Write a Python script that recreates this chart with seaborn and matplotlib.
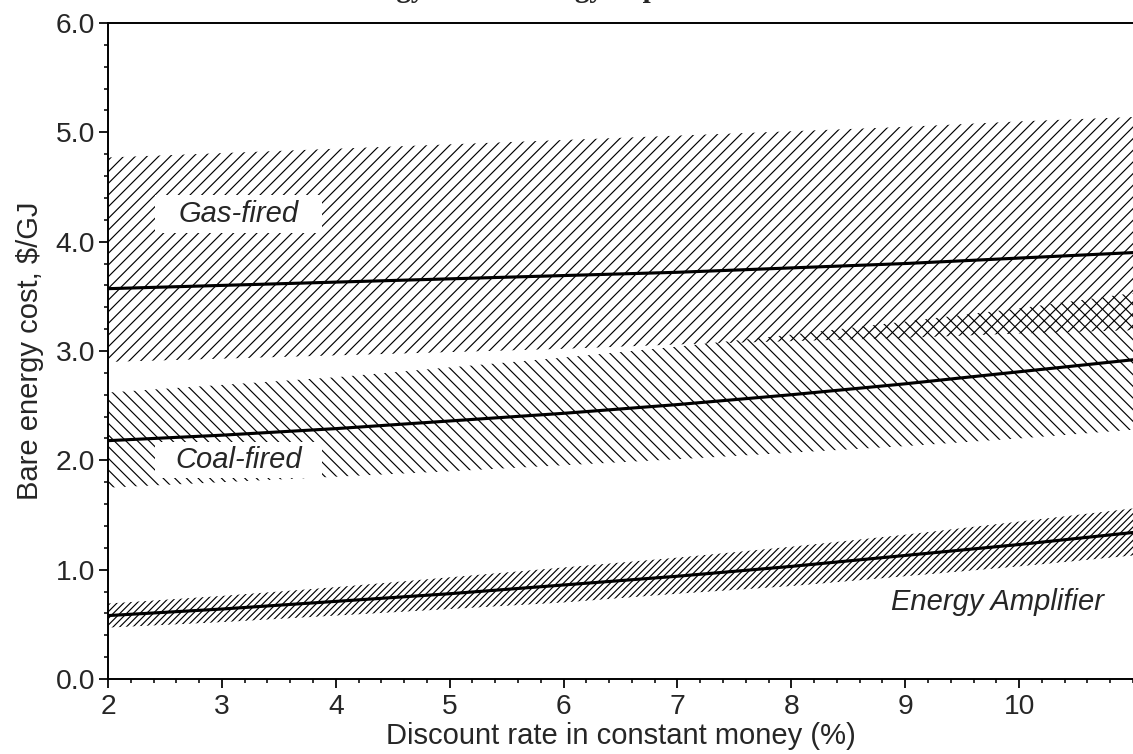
import numpy as np
import pandas as pd
import matplotlib
matplotlib.use("Agg")
import matplotlib.pyplot as plt
from matplotlib.patches import Rectangle
import seaborn as sns

# Discount rate (%) and bare energy cost ($/GJ) for the three technologies
discount_rate = [2, 3, 4, 5, 6, 7, 8, 9, 10, 11]

gas_mid = [3.57, 3.60, 3.63, 3.66, 3.69, 3.72, 3.76, 3.80, 3.85, 3.90]
gas_high = [4.77, 4.81, 4.85, 4.89, 4.93, 4.97, 5.01, 5.05, 5.10, 5.14]
gas_low = [2.90, 2.93, 2.96, 2.99, 3.02, 3.06, 3.09, 3.12, 3.16, 3.19]

coal_mid = [2.18, 2.23, 2.29, 2.36, 2.43, 2.51, 2.60, 2.70, 2.81, 2.92]
coal_high = [2.62, 2.69, 2.76, 2.85, 2.94, 3.04, 3.15, 3.27, 3.39, 3.53]
coal_low = [1.75, 1.80, 1.85, 1.90, 1.955, 2.01, 2.07, 2.13, 2.20, 2.28]

ea_mid = [0.58, 0.64, 0.71, 0.78, 0.86, 0.94, 1.03, 1.13, 1.23, 1.34]
ea_high = [0.69, 0.76, 0.84, 0.93, 1.02, 1.11, 1.21, 1.32, 1.44, 1.56]
ea_low = [0.47, 0.52, 0.58, 0.64, 0.70, 0.78, 0.85, 0.94, 1.03, 1.13]

labels = ["Gas-fired", "Coal-fired", "Energy Amplifier"]
x_ticks = [2, 3, 4, 5, 6, 7, 8, 9, 10]
y_ticks = [0.0, 1.0, 2.0, 3.0, 4.0, 5.0, 6.0]

DPI = 140
sns.set_theme(style="ticks")
plt.rcParams["font.family"] = ["Liberation Sans", "DejaVu Sans"]
plt.rcParams["hatch.linewidth"] = 0.6
plt.rcParams["hatch.color"] = "black"

fig = plt.figure(figsize=(1133 / DPI, 754 / DPI), dpi=DPI)
ax = fig.add_axes([108 / 1133, 1 - 679 / 754, 1 - 108 / 1133, (679 - 23) / 754])

# Hatched uncertainty bands
ax.fill_between(discount_rate, gas_low, gas_high, facecolor="none",
                edgecolor="black", linewidth=0, hatch="////", zorder=1)
ax.fill_between(discount_rate, coal_low, coal_high, facecolor="none",
                edgecolor="black", linewidth=0, hatch="\\\\\\\\", zorder=1)
ax.fill_between(discount_rate, ea_low, ea_high, facecolor="none",
                edgecolor="black", linewidth=0, hatch="///////", zorder=1)

# Central estimates
df = pd.DataFrame({
    "rate": discount_rate * 3,
    "cost": gas_mid + coal_mid + ea_mid,
    "tech": [labels[0]] * 10 + [labels[1]] * 10 + [labels[2]] * 10,
})
sns.lineplot(data=df, x="rate", y="cost", units="tech", estimator=None,
             color="black", linewidth=1.6, ax=ax, zorder=3, legend=False)

# White boxes behind the band labels
for y0, y1 in [(4.08, 4.43), (1.84, 2.17)]:
    ax.add_patch(Rectangle((2.41, y0), 1.47, y1 - y0, facecolor="white",
                           edgecolor="none", zorder=2))

ax.text(3.15, 4.25, labels[0], style="italic", fontsize=15, ha="center",
        va="center", zorder=4)
ax.text(3.15, 2.00, labels[1], style="italic", fontsize=15, ha="center",
        va="center", zorder=4)
ax.text(9.81, 0.70, labels[2], style="italic", fontsize=15, ha="center",
        va="center", zorder=4)

ax.set_xlim(2, 11)
ax.set_ylim(0, 6)
ax.set_xticks(x_ticks)
ax.set_xticklabels([str(v) for v in x_ticks])
ax.set_yticks(y_ticks)
ax.set_yticklabels([f"{v:.1f}" for v in y_ticks])
ax.xaxis.set_minor_locator(matplotlib.ticker.MultipleLocator(0.2))
ax.yaxis.set_minor_locator(matplotlib.ticker.MultipleLocator(0.2))
ax.tick_params(which="major", direction="out", length=4.5, width=0.9,
               labelsize=14.5, color="black", pad=2)
ax.tick_params(axis="x", which="major", pad=3)
ax.tick_params(which="minor", direction="out", length=2, width=0.8,
               color="black")
ax.set_xlabel("Discount rate in constant money (%)", fontsize=15, labelpad=1.5)
ax.set_ylabel("Bare energy cost, $/GJ", fontsize=15, labelpad=6)

for side in ["left", "bottom", "top"]:
    ax.spines[side].set_linewidth(1.0)
    ax.spines[side].set_color("black")
ax.spines["right"].set_visible(False)
ax.grid(False)

fig.text(275 / 1133, 1.004, "Bare energy cost of energy in production versus the discount rate in constant money",
         family=["Liberation Serif", "DejaVu Serif"], weight="bold",
         fontsize=15, ha="left", va="baseline")

fig.savefig("out.png", dpi=DPI)
